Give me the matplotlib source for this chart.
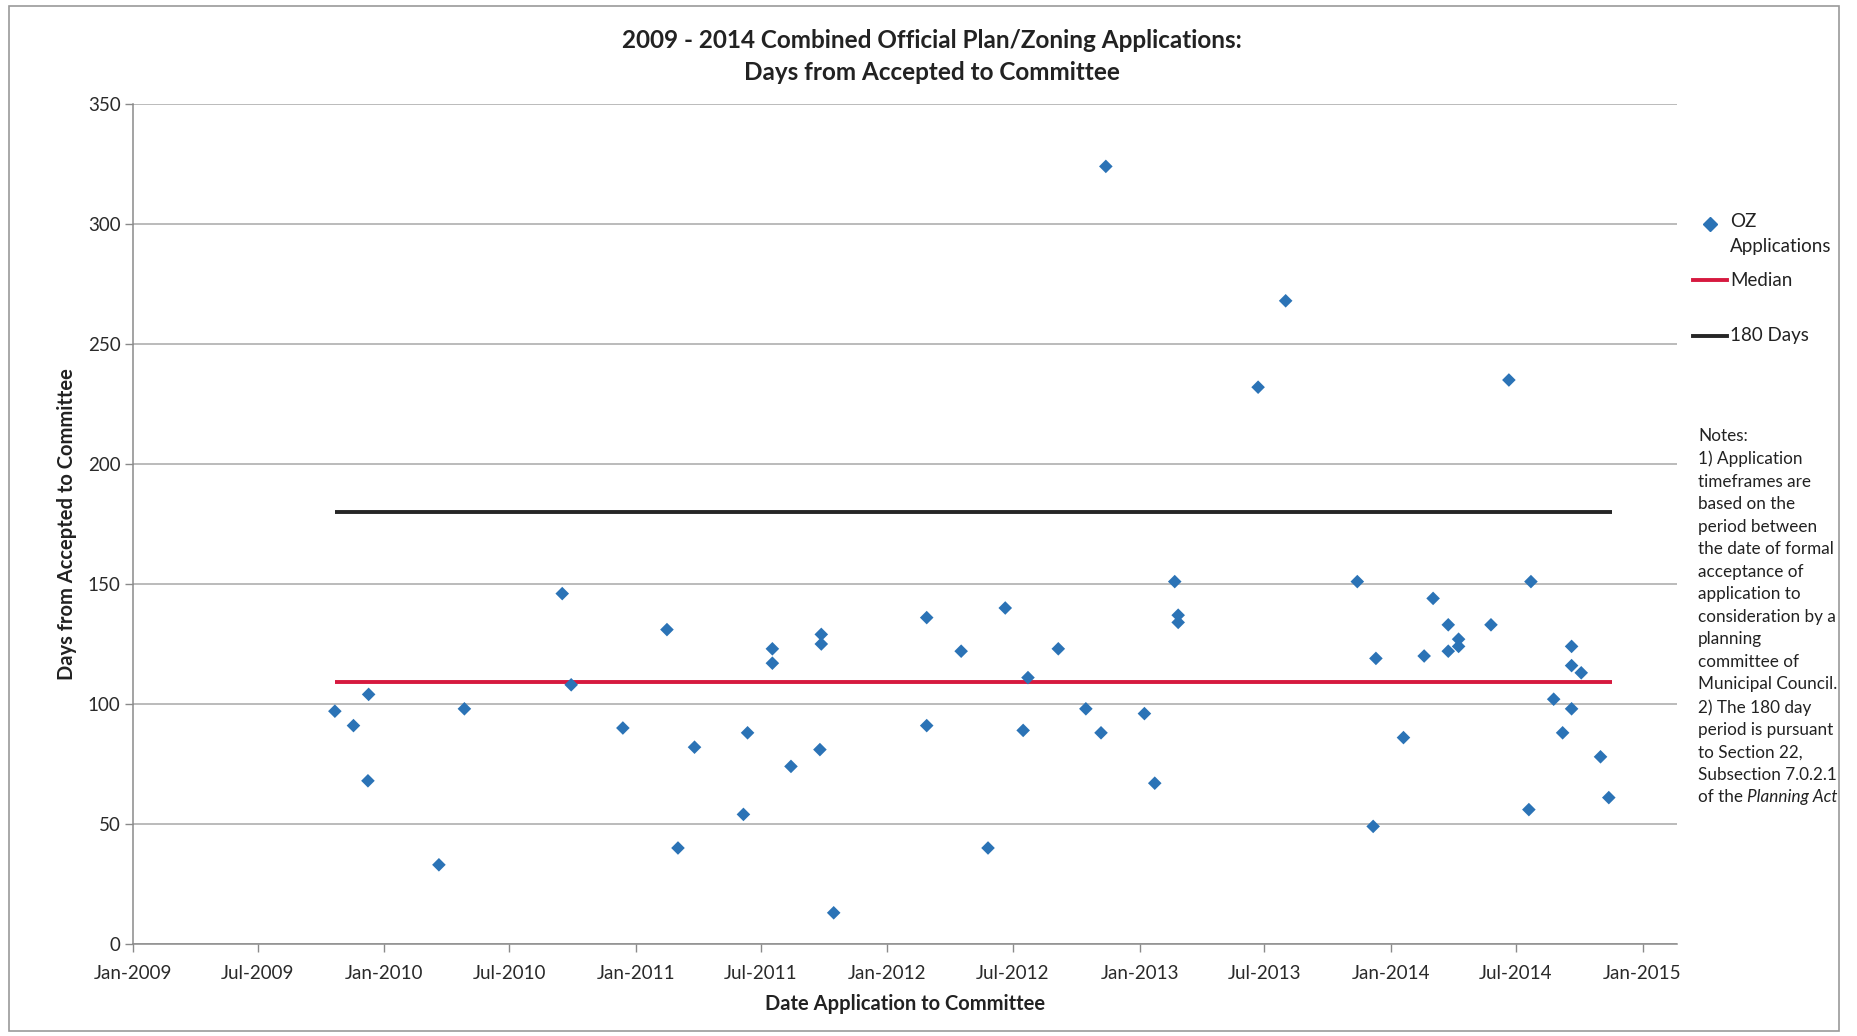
import matplotlib
matplotlib.use("Agg")
import matplotlib.pyplot as plt
import matplotlib.dates as mdates
import numpy as np
import pandas as pd
from matplotlib.lines import Line2D
from matplotlib.patches import Rectangle

plt.rcParams['font.family'] = ['Lato', 'DejaVu Sans']

# ---------------- data ----------------
app_dates = [
    "2009-10-21", "2009-11-17", "2009-12-08", "2009-12-09", "2010-03-21", "2010-04-27",
    "2010-09-16", "2010-09-29", "2010-12-13", "2011-02-15", "2011-03-03", "2011-03-27",
    "2011-06-06", "2011-06-12", "2011-07-18", "2011-07-18", "2011-08-14", "2011-09-27",
    "2011-09-27", "2011-09-25", "2011-10-15", "2012-02-27", "2012-02-27", "2012-04-17",
    "2012-05-26", "2012-06-20", "2012-07-16", "2012-07-23", "2012-09-05", "2012-10-15",
    "2012-11-06", "2012-11-13", "2013-01-08", "2013-01-23", "2013-02-21", "2013-02-26",
    "2013-02-26", "2013-06-22", "2013-08-01", "2013-11-13", "2013-12-06", "2013-12-10",
    "2014-01-19", "2014-02-18", "2014-03-03", "2014-03-25", "2014-03-25", "2014-04-09",
    "2014-04-09", "2014-05-26", "2014-06-21", "2014-07-23", "2014-07-20", "2014-08-25",
    "2014-09-07", "2014-09-20", "2014-09-20", "2014-09-20", "2014-10-04", "2014-11-01",
    "2014-11-13",
]
app_days = [
    97, 91, 68, 104, 33, 98,
    146, 108, 90, 131, 40, 82,
    54, 88, 123, 117, 74, 129,
    125, 81, 13, 136, 91, 122,
    40, 140, 89, 111, 123, 98,
    88, 324, 96, 67, 151, 137,
    134, 232, 268, 151, 49, 119,
    86, 120, 144, 133, 122, 127,
    124, 133, 235, 151, 56, 102,
    88, 124, 116, 98, 113, 78,
    61,
]
line_dates = ["2009-10-21", "2014-11-18"]
median_days = [109, 109]
limit_days = [180, 180]

y_ticks = [0, 50, 100, 150, 200, 250, 300, 350]
x_tick_dates = ["2009-01-01", "2009-07-01", "2010-01-01", "2010-07-01", "2011-01-01",
                "2011-07-01", "2012-01-01", "2012-07-01", "2013-01-01", "2013-07-01",
                "2014-01-01", "2014-07-01", "2015-01-01"]

title = "2009 - 2014 Combined Official Plan/Zoning Applications:\nDays from Accepted to Committee"
x_label = "Date Application to Committee"
y_label = "Days from Accepted to Committee"
notes_lines = [
    "Notes:",
    "1) Application",
    "timeframes are",
    "based on the",
    "period between",
    "the date of formal",
    "acceptance of",
    "application to",
    "consideration by a",
    "planning",
    "committee of",
    "Municipal Council.",
    "2) The 180 day",
    "period is pursuant",
    "to Section 22,",
    "Subsection 7.0.2.1",
]

# ---------------- figure ----------------
W, H = 1858, 1036
fig = plt.figure(figsize=(W / 100, H / 100), dpi=100)
fig.patch.set_facecolor("white")

def fx(px):
    return px / W

def fy(py):
    return 1 - py / H

ax = fig.add_axes([fx(133), fy(944), fx(1677) - fx(133), fy(104) - fy(944)])

xd = pd.to_datetime(app_dates)
ld = pd.to_datetime(line_dates)

ax.plot(ld, limit_days, color="#262626", lw=2.8, zorder=3, solid_capstyle="butt")
ax.plot(ld, median_days, color="#d6193f", lw=2.8, zorder=3, solid_capstyle="butt")
ax.scatter(xd, app_days, marker="D", s=48, color="#2b73b6", edgecolors="none", zorder=4)

ax.set_ylim(0, 350)
ax.set_xlim(pd.Timestamp("2009-01-01"), pd.Timestamp("2015-02-20"))
ax.set_yticks(y_ticks)
ax.set_xticks(pd.to_datetime(x_tick_dates))
ax.xaxis.set_major_formatter(mdates.DateFormatter("%b-%Y"))

ax.grid(axis="y", color="#a8a8a8", lw=1.1)
ax.set_axisbelow(True)
for s in ["top", "right"]:
    ax.spines[s].set_visible(False)
for s in ["left", "bottom"]:
    ax.spines[s].set_color("#8a8a8a")
    ax.spines[s].set_linewidth(1.1)
ax.tick_params(axis="both", colors="#8a8a8a", labelcolor="#2a2a2a", labelsize=13.5,
               length=6, width=1)
ax.tick_params(axis="x", pad=9)
ax.tick_params(axis="y", pad=3)

ax.set_xlabel(x_label, fontsize=14.5, fontweight="bold", color="#222222", labelpad=9)
ax.set_ylabel(y_label, fontsize=14.5, fontweight="bold", color="#222222")
ax.yaxis.set_label_coords((77 - 133) / (1677 - 133), 0.5)

fig.text(fx(932), fy(29), title, ha="center", va="top", fontsize=17.5, fontweight="bold",
         color="#222222", linespacing=1.5)

# ---------------- legend (manual) ----------------
fig.add_artist(Line2D([fx(1710)], [fy(224)], marker="D", markersize=7.5, color="#2b73b6",
                      linestyle="none", transform=fig.transFigure))
fig.text(fx(1730), fy(213), "OZ\nApplications", ha="left", va="top", fontsize=13.5,
         color="#222222", linespacing=1.55)
fig.add_artist(Line2D([fx(1693), fx(1727)], [fy(280), fy(280)], color="#d6193f", lw=2.8,
                      transform=fig.transFigure))
fig.text(fx(1730), fy(280), "Median", ha="left", va="center", fontsize=13.5, color="#222222")
fig.add_artist(Line2D([fx(1693), fx(1727)], [fy(336), fy(336)], color="#262626", lw=2.8,
                      transform=fig.transFigure))
fig.text(fx(1730), fy(336), "180 Days", ha="left", va="center", fontsize=13.5, color="#222222")

# ---------------- notes ----------------
fs_notes = 12.3
line_px = 22.55
t_notes = fig.text(fx(1698), fy(428), "\n".join(notes_lines), ha="left", va="top",
                   fontsize=fs_notes, color="#222222", linespacing=1.50)
t_last = fig.text(fx(1698), fy(428 + 16 * line_px), "of the ", ha="left", va="top",
                  fontsize=fs_notes, color="#222222")
ax.annotate("Planning Act", xy=(1, 0), xycoords=t_last, ha="left", va="bottom",
            fontsize=fs_notes, style="italic", color="#222222", annotation_clip=False)

# ---------------- outer frame ----------------
fig.add_artist(Rectangle((fx(9), fy(1031)), fx(1839) - fx(9), fy(6) - fy(1031),
                         transform=fig.transFigure, fill=False, edgecolor="#9a9a9a", lw=1.2))

fig.savefig("out.png", dpi=100, facecolor="white")
